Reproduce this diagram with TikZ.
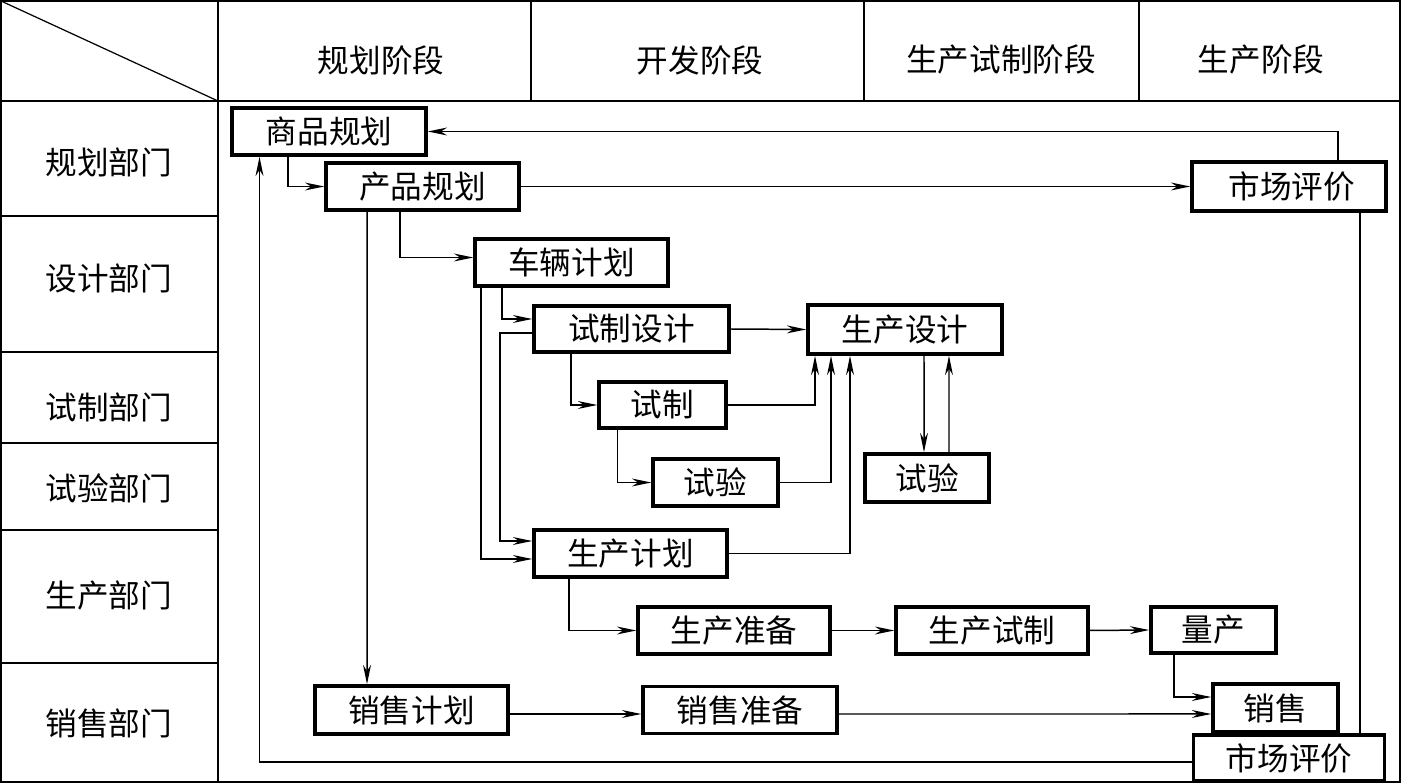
\documentclass[tikz,border=0pt]{standalone}
\usepackage{fontspec}
\newfontfamily\cjk{Noto Sans CJK SC}
\usetikzlibrary{arrows.meta}
\begin{document}
\begin{tikzpicture}[x=0.02cm,y=-0.02cm,
  txt/.style={inner sep=0pt, font=\cjk\fontsize{18pt}{20pt}\selectfont},
  bx/.style={txt, draw, line width=2pt},
  grid/.style={line width=0.9pt},
  ln/.style={line width=0.85pt},
  arr/.style={ln, -{Stealth[length=11pt,width=4.5pt,inset=3.5pt]}}]
\useasboundingbox (0,0) rectangle (1401,783);
\fill[white] (0,0) rectangle (1401,783);
% table
\draw[grid] (1,1) rectangle (1400,782);
\draw[grid] (1,101) -- (1400,101);
\draw[grid] (218,1) -- (218,782);
\draw[grid] (531,1) -- (531,101);
\draw[grid] (864,1) -- (864,101);
\draw[grid] (1139,1) -- (1139,101);
\draw[line width=0.7pt] (1,1) -- (218,101);
\foreach \yy in {216,352,443,530,663} \draw[grid] (1,\yy) -- (218,\yy);
% headers
\node[txt] (h1) at (381,60) {规划阶段};
\node[txt] (h2) at (700,60) {开发阶段};
\node[txt] (h3) at (1001,60) {生产试制阶段};
\node[txt] (h4) at (1261,60) {生产阶段};
\node[txt] (r1) at (109,162) {规划部门};
\node[txt] (r2) at (109,278) {设计部门};
\node[txt] (r3) at (109,407) {试制部门};
\node[txt] (r4) at (109,488) {试验部门};
\node[txt] (r5) at (109,596) {生产部门};
\node[txt] (r6) at (109,723) {销售部门};
% boxes
\node[bx,minimum width=3.88cm,minimum height=0.94cm] (spgh) at (329,131.5) {商品规划};
\node[bx,minimum width=3.86cm,minimum height=0.94cm] (cpgh) at (422.5,186.5) {产品规划};
\node[bx,minimum width=3.88cm,minimum height=0.98cm] (scpj1) at (1289,186.5) {\,市场评价};
\node[bx,minimum width=3.86cm,minimum height=0.94cm] (clgh) at (571.5,262.5) {车辆计划};
\node[bx,minimum width=3.9cm,minimum height=0.92cm] (szsj) at (631.5,329) {试制设计};
\node[bx,minimum width=3.88cm,minimum height=0.98cm] (scsj) at (905,329.5) {生产设计};
\node[bx,minimum width=2.54cm,minimum height=0.92cm] (sz) at (662.5,405) {试制};
\node[bx,minimum width=2.5cm,minimum height=0.94cm] (sy1) at (715.5,482.5) {试验};
\node[bx,minimum width=2.48cm,minimum height=0.96cm] (sy2) at (927,478) {试验};
\node[bx,minimum width=3.86cm,minimum height=0.94cm] (scjh) at (630.5,553.5) {生产计划};
\node[bx,minimum width=3.84cm,minimum height=0.94cm] (sczb) at (734,630.5) {生产准备};
\node[bx,minimum width=3.84cm,minimum height=0.94cm] (scsz) at (992,630.5) {生产试制};
\node[bx,minimum width=2.5cm,minimum height=0.92cm] (lc) at (1213.5,630) {量产};
\node[bx,minimum width=2.5cm,minimum height=0.96cm] (xs) at (1275.5,708) {销售};
\node[bx,minimum width=3.86cm,minimum height=0.96cm] (xsjh) at (411.5,710) {销售计划};
\node[bx,minimum width=3.88cm,minimum height=0.94cm] (xszb) at (740,710) {销售准备};
\node[bx,minimum width=3.82cm,minimum height=0.92cm] (scpj2) at (1289,758) {市场评价};
% connectors
\draw[arr] ([xshift=0.98cm]scpj1.north) |- (spgh.east);
\draw[arr] ([xshift=-0.82cm]spgh.south) |- (cpgh.west);
\draw[arr] (cpgh.east) -- (scpj1.west);
\draw[arr] ([xshift=-1.11cm]cpgh.south) -- ([xshift=-0.89cm]xsjh.north);
\draw[arr] ([xshift=-0.45cm]cpgh.south) |- ([yshift=0.1cm]clgh.west);
\draw[arr] ([xshift=-1.39cm]clgh.south) |- ([yshift=0.2cm]szsj.west);
\draw[arr] ([xshift=-1.81cm]clgh.south) |- ([yshift=-0.11cm]scjh.west);
\draw[arr] ([yshift=-0.08cm]szsj.west) -| ([xshift=-0.65cm,yshift=0.25cm]scjh.west) -- ([yshift=0.25cm]scjh.west);
\draw[arr] (szsj.east) -- (scsj.west);
\draw[arr] ([xshift=-1.21cm]szsj.south) |- (sz.west);
\draw[arr] (sz.east) -| ([xshift=-1.8cm]scsj.south);
\draw[arr] ([xshift=-0.9cm]sz.south) |- (sy1.west);
\draw[arr] (sy1.east) -| ([xshift=-1.48cm]scsj.south);
\draw[arr] (scjh.east) -| ([xshift=-1.1cm]scsj.south);
\draw[arr] ([xshift=0.38cm]scsj.south) -- ([xshift=-0.06cm]sy2.north);
\draw[arr] ([xshift=0.44cm]sy2.north) -- ([xshift=0.88cm]scsj.south);
\draw[arr] ([xshift=-1.23cm]scjh.south) |- (sczb.west);
\draw[arr] (sczb.east) -- (scsz.west);
\draw[arr] (scsz.east) -- (lc.west);
\draw[arr] ([xshift=-0.79cm]lc.south) |- ([yshift=0.22cm]xs.west);
\draw[arr] ([yshift=-0.08cm]xsjh.east) -- ([yshift=-0.08cm]xszb.west);
\draw[arr] ([yshift=-0.08cm]xszb.east) -- ([yshift=-0.12cm]xs.west);
\draw[ln] ([xshift=1.42cm]scpj1.south) -- ([xshift=1.42cm]scpj2.north);
\draw[arr] ([yshift=-0.08cm]scpj2.west) -| ([xshift=-1.39cm]spgh.south);
\end{tikzpicture}
\end{document}
